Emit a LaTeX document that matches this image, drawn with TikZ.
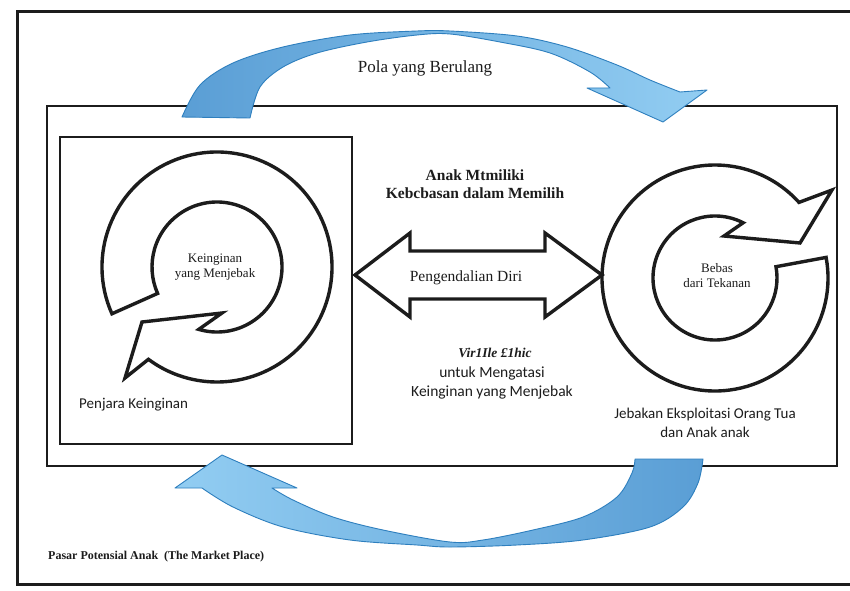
\documentclass[tikz,border=0pt]{standalone}
\usepackage{fontspec}
\setmainfont{Liberation Serif}
\newfontfamily\calfont{Carlito}
\usetikzlibrary{calc}
\definecolor{ink}{HTML}{1C1C1C}
\definecolor{bdark}{HTML}{5A9ED5}
\definecolor{bgrey}{HTML}{B7C9DA}
\definecolor{blight}{HTML}{92CDF2}
\definecolor{bedge}{HTML}{2E7FBE}
\begin{document}
\begin{tikzpicture}[x=1pt,y=1pt,
  boxline/.style={draw=ink, line width=2.6pt},
  ring/.style={draw=ink, line width=3.4pt, fill=white, miter limit=6},
  bluearrow/.style={draw=bedge, line width=0.9pt, line join=round},
  txt/.style={text=ink, inner sep=1pt}]
\useasboundingbox (0,0) rectangle (850,590);
\fill[white] (0,0) rectangle (850,590);
% boxes
\draw[boxline, line width=3pt] (17,6) rectangle (864,578);
\draw[boxline] (47,124) rectangle (837,484);
\draw[boxline, line width=2.2pt] (60,146) rectangle (352,453);
% top curved arrow
\path[bluearrow, left color=bdark, middle color=bgrey, right color=blight]
 (182,473) -- plot[smooth, tension=0.55] coordinates {(182,473) (200,505) (233,527) (283,543) (350,555) (417,559) (450,559) (517,554) (567,543) (617,525) (650,510) (680,498)}
 -- (707,500) -- (663,468) -- (587,502) -- (610,502)
 -- plot[smooth, tension=0.55] coordinates {(610,502) (590,518) (550,537) (500,548) (450,556) (417,555) (367,548) (317,537) (283,523) (260,503) (250,472)}
 -- cycle;
% bottom curved arrow
\path[bluearrow, left color=blight, middle color=bgrey, right color=bdark]
 (635,131) -- (703,131) -- plot[smooth, tension=0.55] coordinates {(703,131) (698,107) (683,83) (650,63) (583,50) (517,45) (450,43) (417,45) (350,50) (283,63) (233,83) (202,102)}
 -- (175,102) -- (222,135) -- (297,102) -- (272,102)
 -- plot[smooth, tension=0.55] coordinates {(272,102) (293,90) (333,73) (383,60) (450,48) (483,50) (533,60) (583,73) (617,93) (632,117) (635,131)}
 -- cycle;
% left circular arrow
\coordinate (CL) at (217,323);
\draw[ring] ($(CL)+(204:115)$) arc[start angle=204, end angle=-126.6, radius=115]
  -- (125,212) -- (142,268) -- (222,277) -- ($(CL)+(-106.3:65)$)
  arc[start angle=-106.3, end angle=204, radius=65] -- cycle;
% right circular arrow
\coordinate (CR) at (715,312);
\draw[ring] ($(CR)+(10.5:113)$) arc[start angle=10.5, end angle=-318, radius=113]
  -- (832,400) -- (800,347) -- (724,354) -- ($(CR)+(63:62)$)
  arc[start angle=63, end angle=370.5, radius=62] -- cycle;
% double arrow
\draw[ring] (355,315) -- (410,357) -- (410,339) -- (545,339) -- (545,357) -- (602,315)
  -- (545,273) -- (545,291) -- (410,291) -- (410,273) -- cycle;
% texts
\node[txt, font=\fontsize{17}{20}\selectfont] (pola) at (425,522) {Pola yang Berulang};
\node[txt, font=\bfseries\fontsize{15.5}{18}\selectfont, align=center] (anak) at (475,406) {Anak Mtmiliki\\Kebcbasan dalam Memilih};
\node[txt, font=\fontsize{15.5}{18}\selectfont] (pd) at (466,312) {Pengendalian Diri};
\node[txt, font=\bfseries\itshape\fontsize{13.5}{16}\selectfont] (ve) at (495,237) {Vir1Ile £1hic};
\node[txt, font=\calfont\fontsize{15.5}{19}\selectfont, align=center] (um) at (492,207) {untuk Mengatasi\\Keinginan yang Menjebak};
\node[txt, font=\fontsize{13}{15}\selectfont, align=center] (kym) at (215,322.5) {Keinginan\\yang Menjebak};
\node[txt, font=\fontsize{13}{15}\selectfont, align=center] (bdt) at (717,314.5) {Bebas\\dari Tekanan};
\node[txt, font=\calfont\fontsize{15}{18}\selectfont, anchor=west, inner sep=0pt] (pk) at (79,185) {Penjara Keinginan};
\node[txt, font=\calfont\fontsize{15}{19}\selectfont, align=center] (jeo) at (705,167.5) {Jebakan Eksploitasi Orang Tua\\dan Anak anak};
\node[txt, font=\bfseries\fontsize{12}{14}\selectfont, anchor=west, inner sep=0pt] (pasar) at (48,33) {Pasar Potensial Anak~ (The Market Place)};
\end{tikzpicture}
\end{document}
